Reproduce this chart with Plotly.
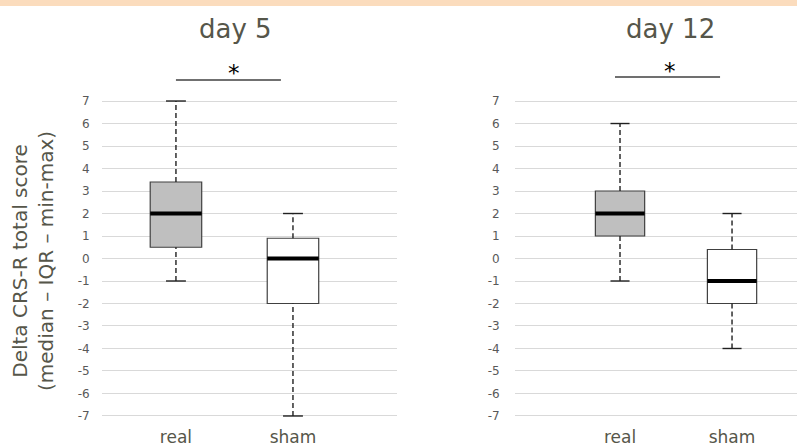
import plotly.graph_objects as go

# ---- data ----
groups = ["real", "sham"]
panel_titles = ["day 5", "day 12"]

day5_min = [-1, -7]
day5_q1 = [0.5, -2]
day5_median = [2, 0]
day5_q3 = [3.4, 0.9]
day5_max = [7, 2]

day12_min = [-1, -4]
day12_q1 = [1, -2]
day12_median = [2, -1]
day12_q3 = [3, 0.4]
day12_max = [6, 2]

y_tick_vals = list(range(-7, 8))
y_tick_text = [str(v) for v in y_tick_vals]
significance = ["*", "*"]

box_fills = ["#BFBFBF", "#FFFFFF"]
TEXT = "#56564A"
EDGE = "#404040"
FONT = "DejaVu Sans"

W, H = 797, 446

def py(p):
    return 1 - p / H

fig = go.Figure()

panels = [
    dict(mins=day5_min, q1=day5_q1, med=day5_median, q3=day5_q3, maxs=day5_max,
         xa="x", ya="y"),
    dict(mins=day12_min, q1=day12_q1, med=day12_median, q3=day12_q3, maxs=day12_max,
         xa="x2", ya="y2"),
]

bw = 0.44
cap = 0.085
for p in panels:
    for i, g in enumerate(groups):
        fig.add_trace(go.Box(
            x=[i], q1=[p["q1"][i]], median=[p["med"][i]], q3=[p["q3"][i]],
            lowerfence=[p["q1"][i]], upperfence=[p["q3"][i]],
            width=bw, fillcolor=box_fills[i],
            line=dict(color=EDGE, width=1.2), boxpoints=False,
            xaxis=p["xa"], yaxis=p["ya"], showlegend=False, hoverinfo="skip",
        ))
        # dashed whiskers
        for a, b in [(p["q3"][i], p["maxs"][i]), (p["mins"][i], p["q1"][i])]:
            fig.add_trace(go.Scatter(
                x=[i, i], y=[a, b], mode="lines",
                line=dict(color="#202020", width=1.4, dash="5px,3px"),
                xaxis=p["xa"], yaxis=p["ya"], showlegend=False, hoverinfo="skip"))
        # caps
        for v in [p["maxs"][i], p["mins"][i]]:
            fig.add_trace(go.Scatter(
                x=[i - cap, i + cap], y=[v, v], mode="lines",
                line=dict(color="#202020", width=1.4),
                xaxis=p["xa"], yaxis=p["ya"], showlegend=False, hoverinfo="skip"))
        # thick median
        fig.add_trace(go.Scatter(
            x=[i - bw / 2, i + bw / 2], y=[p["med"][i], p["med"][i]], mode="lines",
            line=dict(color="#000000", width=4),
            xaxis=p["xa"], yaxis=p["ya"], showlegend=False, hoverinfo="skip"))

ydom = [py(417.1), py(99.9)]
yrange = [-7.05, 7.05]

yax = dict(range=yrange, domain=ydom, tickvals=y_tick_vals, ticktext=y_tick_text,
           showgrid=True, gridcolor="#D9D9D9", gridwidth=1, zeroline=False,
           showline=False, ticks="outside", tickcolor="rgba(0,0,0,0)", automargin=False,
           tickfont=dict(family=FONT, size=12, color="#595959"), fixedrange=True)
xax = dict(tickvals=[0, 1], ticktext=groups, showgrid=False, zeroline=False,
           showline=False, ticks="outside", tickcolor="rgba(0,0,0,0)", ticklen=4,
           automargin=False,
           tickfont=dict(family=FONT, size=17, color=TEXT), fixedrange=True)

fig.update_layout(
    width=W, height=H, autosize=False,
    margin=dict(l=0, r=0, t=0, b=0),
    paper_bgcolor="white", plot_bgcolor="white",
    xaxis=dict(xax, domain=[102 / W, 397 / W], range=[-0.632, 1.889], anchor="y"),
    yaxis=dict(yax, anchor="x", ticklen=9),
    xaxis2=dict(xax, domain=[515 / W, 1.0], range=[-0.9375, 1.58], anchor="y2"),
    yaxis2=dict(yax, anchor="x2", ticklen=12),
)

# top band
fig.add_shape(type="rect", xref="paper", yref="paper", x0=0, x1=1, y0=py(6), y1=1,
              fillcolor="#FBDCBD", line=dict(width=0), layer="below")

# titles
for t, cx in zip(panel_titles, [235, 670]):
    fig.add_annotation(x=cx / W, y=py(29), xref="paper", yref="paper", text=t,
                       xanchor="center", yanchor="middle",
                       showarrow=False, font=dict(family=FONT, size=26, color=TEXT))

# y-axis title
fig.add_annotation(x=33 / W, y=py(261), xref="paper", yref="paper",
                   text="Delta CRS-R total score<br>(median – IQR – min-max)",
                   textangle=-90, showarrow=False, xanchor="center", yanchor="middle",
                   font=dict(family=FONT, size=20, color=TEXT))

# significance bars
fig.add_shape(type="line", xref="x", yref="paper", x0=0, x1=0.897, y0=py(80), y1=py(80),
              line=dict(color=EDGE, width=1.6))
fig.add_annotation(x=0.497, y=py(73), xref="x", yref="paper", text=significance[0],
                   xanchor="center", yanchor="middle",
                   showarrow=False, font=dict(family=FONT, size=23, color="#000000"))
fig.add_shape(type="line", xref="x2", yref="paper", x0=-0.045, x1=0.893, y0=py(77), y1=py(77),
              line=dict(color=EDGE, width=1.6))
fig.add_annotation(x=0.446, y=py(71), xref="x2", yref="paper", text=significance[1],
                   xanchor="center", yanchor="middle",
                   showarrow=False, font=dict(family=FONT, size=23, color="#000000"))

fig.write_html(
    "out.html",
    config={"displayModeBar": False, "responsive": False, "staticPlot": True},
    post_script="document.body.style.margin='0';document.body.style.overflow='hidden';",
)
